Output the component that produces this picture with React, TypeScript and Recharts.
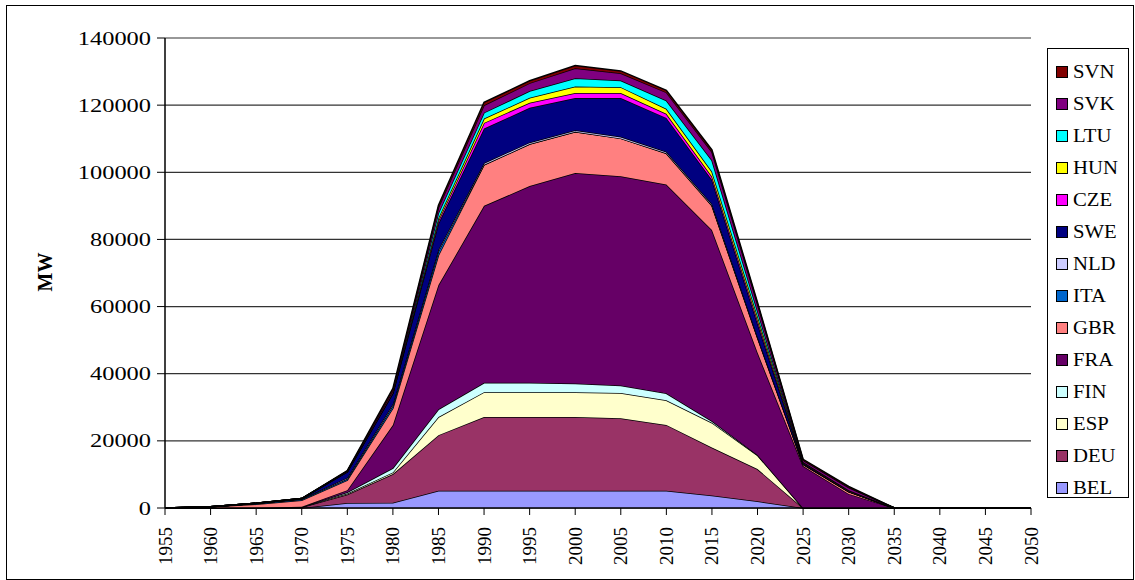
import React from 'react';
import { AreaChart, Area, XAxis, YAxis, CartesianGrid } from 'recharts';

// years on the x axis (every 5 years)
const years = [1955, 1960, 1965, 1970, 1975, 1980, 1985, 1990, 1995, 2000, 2005, 2010, 2015, 2020, 2025, 2030, 2035, 2040, 2045, 2050];

// installed capacity per country, MW (stacked bottom -> top)
const BEL = [0, 0, 0, 0, 1500, 1600, 5150, 5150, 5150, 5150, 5150, 5150, 3700, 2000, 0, 0, 0, 0, 0, 0];
const DEU = [0, 0, 0, 200, 2500, 8500, 16550, 21950, 21950, 21950, 21550, 19600, 14300, 9600, 0, 0, 0, 0, 0, 0];
const ESP = [0, 0, 0, 100, 300, 500, 5400, 7400, 7400, 7400, 7550, 7350, 7400, 4100, 0, 0, 0, 0, 0, 0];
const FIN = [0, 0, 0, 0, 400, 1300, 2300, 2800, 2800, 2600, 2250, 2050, 500, 100, 0, 0, 0, 0, 0, 0];
const FRA = [0, 0, 100, 100, 600, 12800, 37000, 52700, 58600, 62700, 62300, 62200, 56900, 30500, 12500, 4200, 0, 0, 0, 0];
const GBR = [0, 400, 1000, 1900, 3000, 5000, 8900, 12250, 12500, 12250, 11300, 9300, 7300, 4500, 500, 700, 0, 0, 0, 0];
const ITA = [0, 0, 300, 300, 400, 800, 1200, 0, 0, 0, 0, 0, 0, 0, 0, 0, 0, 0, 0, 0];
const NLD = [0, 0, 0, 50, 300, 500, 500, 500, 500, 500, 500, 450, 450, 200, 0, 0, 0, 0, 0, 0];
const SWE = [0, 0, 0, 150, 1800, 3300, 7800, 10300, 10300, 9600, 11500, 10100, 7200, 4000, 300, 0, 0, 0, 0, 0];
const CZE = [0, 0, 0, 0, 0, 0, 800, 1650, 1500, 1450, 1500, 1200, 1000, 1000, 200, 200, 0, 0, 0, 0];
const HUN = [0, 0, 0, 0, 0, 0, 800, 1300, 1500, 1950, 1750, 1500, 1500, 1200, 200, 200, 0, 0, 0, 0];
const LTU = [0, 0, 0, 0, 0, 0, 1500, 1750, 2000, 2450, 2000, 2450, 3300, 1500, 0, 0, 0, 0, 0, 0];
const SVK = [0, 0, 0, 0, 200, 600, 1600, 2200, 2350, 3000, 2150, 2450, 2500, 2000, 500, 800, 0, 0, 0, 0];
const SVN = [0, 0, 0, 0, 100, 700, 700, 900, 700, 800, 700, 600, 600, 500, 300, 300, 0, 0, 0, 0];

const yTicks = [0, 20000, 40000, 60000, 80000, 100000, 120000, 140000];

const series = [
  { key: 'BEL', values: BEL, color: '#9999FF' },
  { key: 'DEU', values: DEU, color: '#993366' },
  { key: 'ESP', values: ESP, color: '#FFFFCC' },
  { key: 'FIN', values: FIN, color: '#CCFFFF' },
  { key: 'FRA', values: FRA, color: '#660066' },
  { key: 'GBR', values: GBR, color: '#FF8080' },
  { key: 'ITA', values: ITA, color: '#0066CC' },
  { key: 'NLD', values: NLD, color: '#CCCCFF' },
  { key: 'SWE', values: SWE, color: '#000080' },
  { key: 'CZE', values: CZE, color: '#FF00FF' },
  { key: 'HUN', values: HUN, color: '#FFFF00' },
  { key: 'LTU', values: LTU, color: '#00FFFF' },
  { key: 'SVK', values: SVK, color: '#800080' },
  { key: 'SVN', values: SVN, color: '#800000' },
];

const data = years.map((year, i) => {
  const row: Record<string, number> = { year };
  series.forEach(s => { row[s.key] = s.values[i]; });
  return row;
});

const FONT = 'Liberation Serif, Times New Roman, serif';

const XTick = (props: any) => {
  const { x, y, payload } = props;
  return (
    <text
      x={0}
      y={0}
      transform={`translate(${x},${y + 10}) rotate(-90)`}
      textAnchor="end"
      dominantBaseline="central"
      fontFamily={FONT}
      fontSize={19}
      fill="#000"
    >
      {payload.value}
    </text>
  );
};

const YTick = (props: any) => {
  const { x, y, payload } = props;
  const label = String(payload.value);
  return (
    <text
      x={x - 4}
      y={y}
      textAnchor="end"
      dominantBaseline="central"
      fontFamily={FONT}
      fontSize={19}
      fill="#000"
      textLength={label.length * 12.2}
      lengthAdjust="spacingAndGlyphs"
    >
      {label}
    </text>
  );
};

export default function App() {
  return (
    <div style={{ position: 'absolute', left: 0, top: 0, width: 1135, height: 580, background: '#fff' }}>
      <div style={{ position: 'absolute', left: 6, top: 5, width: 1126, height: 573, border: '1px solid #000' }} />
      <div style={{ position: 'absolute', left: 0, top: 0 }}>
        <AreaChart width={1135} height={580} data={data} margin={{ top: 38, right: 104, left: 85, bottom: 12 }}>
          <CartesianGrid vertical={false} stroke="#333" strokeWidth={1.2} />
          <XAxis
            dataKey="year"
            type="number"
            domain={[1955, 2050]}
            ticks={years}
            interval={0}
            height={60}
            tick={<XTick />}
            tickSize={7}
            axisLine={{ stroke: '#000', strokeWidth: 1.5 }}
            tickLine={{ stroke: '#000' }}
          />
          <YAxis
            type="number"
            domain={[0, 140000]}
            ticks={yTicks}
            width={80}
            tick={<YTick />}
            tickSize={8}
            axisLine={{ stroke: '#000', strokeWidth: 1.5 }}
            tickLine={{ stroke: '#000' }}
          />
          {series.map(s => (
            <Area
              key={s.key}
              type="linear"
              dataKey={s.key}
              stackId="1"
              stroke="#000"
              strokeWidth={1.5}
              fill={s.color}
              fillOpacity={1}
              dot={false}
              activeDot={false}
              isAnimationActive={false}
            />
          ))}
        </AreaChart>
      </div>
      <div
        style={{
          position: 'absolute',
          left: 45,
          top: 272,
          transform: 'translate(-50%, -50%) rotate(-90deg)',
          fontFamily: FONT,
          fontWeight: 'bold',
          fontSize: 20,
        }}
      >
        MW
      </div>
      <div
        style={{
          position: 'absolute',
          left: 1047,
          top: 48,
          width: 82,
          height: 450,
          border: '1px solid #000',
          boxSizing: 'border-box',
          background: '#fff',
          paddingTop: 7,
        }}
      >
        {[...series].reverse().map(s => (
          <div key={s.key} style={{ display: 'flex', alignItems: 'center', height: 32, paddingLeft: 8 }}>
            <div style={{ width: 10, height: 10, background: s.color, border: '1px solid #000', marginRight: 5 }} />
            <span style={{ fontFamily: FONT, fontSize: 18, display: 'inline-block', transform: 'scaleX(1.15)', transformOrigin: 'left center' }}>
              {s.key}
            </span>
          </div>
        ))}
      </div>
    </div>
  );
}
